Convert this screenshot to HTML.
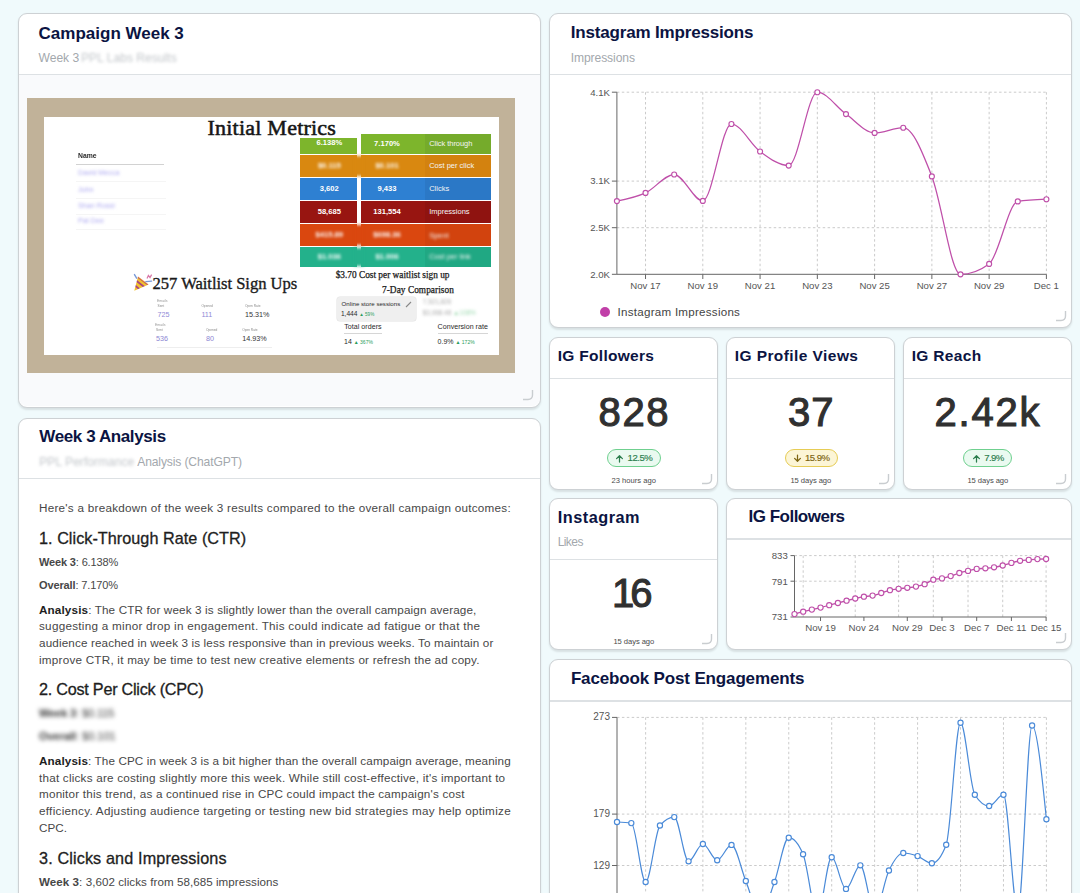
<!DOCTYPE html><html><head><meta charset="utf-8"><style>
html,body{margin:0;padding:0;width:1080px;height:893px;overflow:hidden;background:#f0fafc;font-family:"Liberation Sans",sans-serif;}
.t{position:absolute;white-space:nowrap;}
.card{position:absolute;box-sizing:border-box;background:#fff;border:1.3px solid #cdd1d4;border-radius:9px;box-shadow:0 1.5px 2px rgba(0,0,0,0.10);}
.sep{position:absolute;height:1.3px;background:#dde1e4;}
.hd{position:absolute;}
.blur{filter:blur(2.2px);}
svg{position:absolute;overflow:visible;}
</style></head><body>
<div class="card" style="left:18px;top:13px;width:523px;height:395px"></div>
<div class="sep" style="left:19px;top:74px;width:521px"></div>
<div style="position:absolute;left:19px;top:75px;width:521px;height:331px;background:#f9fafc;border-radius:0 0 8px 8px"></div>
<div class="t" style="left:38.60px;top:24.81px;font-size:17px;line-height:17px;color:#0b1442;font-weight:bold;">Campaign Week 3</div>
<div class="t" style="left:38.60px;top:51.96px;font-size:12.1px;line-height:12.1px;color:#a3a8ad;font-weight:normal;letter-spacing:-0.041px;">Week 3</div>
<div class="t" style="left:81.00px;top:51.96px;font-size:12.1px;line-height:12.1px;color:#c3c7cb;font-weight:normal;filter:blur(1.6px);">PPL Labs Results</div>
<svg class="hd" style="left:522px;top:389px" width="12" height="12" viewBox="0 0 12 12"><path d="M1,10.5 L6,10.5 Q10.5,10.5 10.5,6 L10.5,1" fill="none" stroke="#c9cdd0" stroke-width="1.4"/></svg>
<div style="position:absolute;left:27px;top:98px;width:488px;height:275px;background:#c1b299;"></div>
<div style="position:absolute;left:44px;top:117px;width:455px;height:238px;background:#fff;"></div>
<div class="t" style="left:207.50px;top:117.28px;font-size:22px;line-height:22px;color:#161616;font-weight:normal;font-family:'Liberation Serif', serif;-webkit-text-stroke:0.55px #161616;letter-spacing:0.226px;">Initial Metrics</div>
<div class="t" style="left:78.00px;top:153.04px;font-size:6.8px;line-height:6.8px;color:#2a2a2a;font-weight:bold;filter:blur(0.3px);">Name</div>
<div style="position:absolute;left:76px;top:164.3px;width:88px;height:1px;background:#d2d2d2"></div>
<div class="t" style="left:78.00px;top:169.21px;font-size:7.2px;line-height:7.2px;color:#aeaaf0;font-weight:normal;filter:blur(1.5px);">David Mecca</div>
<div style="position:absolute;left:76px;top:181px;width:90px;height:1px;background:#f5f5f5"></div>
<div class="t" style="left:78.00px;top:185.71px;font-size:7.2px;line-height:7.2px;color:#aeaaf0;font-weight:normal;filter:blur(1.5px);">John</div>
<div style="position:absolute;left:76px;top:197.5px;width:90px;height:1px;background:#f5f5f5"></div>
<div class="t" style="left:78.00px;top:201.91px;font-size:7.2px;line-height:7.2px;color:#aeaaf0;font-weight:normal;filter:blur(1.5px);">Shan Rossi</div>
<div style="position:absolute;left:76px;top:213.7px;width:90px;height:1px;background:#f5f5f5"></div>
<div class="t" style="left:78.00px;top:217.41px;font-size:7.2px;line-height:7.2px;color:#aeaaf0;font-weight:normal;filter:blur(1.5px);">Pat Dee</div>
<div style="position:absolute;left:76px;top:229.2px;width:90px;height:1px;background:#f5f5f5"></div>
<div style="position:absolute;left:300.1px;top:137.9px;width:56.6px;height:15.900000000000006px;background:#7db52c"></div>
<div style="position:absolute;left:361.4px;top:133.6px;width:64px;height:20.200000000000017px;background:#7db52c"></div>
<div style="position:absolute;left:425.4px;top:133.6px;width:66px;height:20.200000000000017px;background:#75ab2b"></div>
<div class="t" style="left:129.30px;width:400px;text-align:center;top:138.87px;font-size:7.6px;line-height:7.6px;color:#fff;font-weight:bold;">6.138%</div>
<div class="t" style="left:187.00px;width:400px;text-align:center;top:139.97px;font-size:7.6px;line-height:7.6px;color:#fff;font-weight:bold;">7.170%</div>
<div class="t" style="left:429.20px;top:140.05px;font-size:7.5px;line-height:7.5px;color:#f4f4f4;font-weight:normal;letter-spacing:-0.048px;">Click through</div>
<div style="position:absolute;left:300.1px;top:154.7px;width:56.6px;height:22.0px;background:#d98810"></div>
<div style="position:absolute;left:361.4px;top:154.7px;width:64px;height:22.0px;background:#d98810"></div>
<div style="position:absolute;left:425.4px;top:154.7px;width:66px;height:22.0px;background:#d3820f"></div>
<div style="position:absolute;left:354px;top:155.7px;width:10px;height:20.0px;background:#d98810;filter:blur(1.5px)"></div>
<div class="t" style="left:129.30px;width:400px;text-align:center;top:161.97px;font-size:7.6px;line-height:7.6px;color:#fff;font-weight:bold;filter:blur(1.6px);">$0.115</div>
<div class="t" style="left:187.00px;width:400px;text-align:center;top:161.97px;font-size:7.6px;line-height:7.6px;color:#fff;font-weight:bold;filter:blur(1.6px);">$0.101</div>
<div class="t" style="left:429.20px;top:162.05px;font-size:7.5px;line-height:7.5px;color:#f4f4f4;font-weight:normal;">Cost per click</div>
<div style="position:absolute;left:300.1px;top:177.6px;width:56.6px;height:22.5px;background:#2e80d2"></div>
<div style="position:absolute;left:361.4px;top:177.6px;width:64px;height:22.5px;background:#2e80d2"></div>
<div style="position:absolute;left:425.4px;top:177.6px;width:66px;height:22.5px;background:#2b78c6"></div>
<div class="t" style="left:129.30px;width:400px;text-align:center;top:185.12px;font-size:7.6px;line-height:7.6px;color:#fff;font-weight:bold;">3,602</div>
<div class="t" style="left:187.00px;width:400px;text-align:center;top:185.12px;font-size:7.6px;line-height:7.6px;color:#fff;font-weight:bold;">9,433</div>
<div class="t" style="left:429.20px;top:185.20px;font-size:7.5px;line-height:7.5px;color:#f4f4f4;font-weight:normal;">Clicks</div>
<div style="position:absolute;left:300.1px;top:200.9px;width:56.6px;height:22.299999999999983px;background:#981511"></div>
<div style="position:absolute;left:361.4px;top:200.9px;width:64px;height:22.299999999999983px;background:#981511"></div>
<div style="position:absolute;left:425.4px;top:200.9px;width:66px;height:22.299999999999983px;background:#8f1310"></div>
<div class="t" style="left:129.30px;width:400px;text-align:center;top:208.32px;font-size:7.6px;line-height:7.6px;color:#fff;font-weight:bold;">58,685</div>
<div class="t" style="left:187.00px;width:400px;text-align:center;top:208.32px;font-size:7.6px;line-height:7.6px;color:#fff;font-weight:bold;">131,554</div>
<div class="t" style="left:429.20px;top:208.40px;font-size:7.5px;line-height:7.5px;color:#f4f4f4;font-weight:normal;">Impressions</div>
<div style="position:absolute;left:300.1px;top:224.0px;width:56.6px;height:22.400000000000006px;background:#da470f"></div>
<div style="position:absolute;left:361.4px;top:224.0px;width:64px;height:22.400000000000006px;background:#da470f"></div>
<div style="position:absolute;left:425.4px;top:224.0px;width:66px;height:22.400000000000006px;background:#d2430e"></div>
<div style="position:absolute;left:354px;top:225.0px;width:10px;height:20.400000000000006px;background:#da470f;filter:blur(1.5px)"></div>
<div class="t" style="left:129.30px;width:400px;text-align:center;top:231.47px;font-size:7.6px;line-height:7.6px;color:#fff;font-weight:bold;filter:blur(1.6px);">$415.89</div>
<div class="t" style="left:187.00px;width:400px;text-align:center;top:231.47px;font-size:7.6px;line-height:7.6px;color:#fff;font-weight:bold;filter:blur(1.6px);">$698.36</div>
<div class="t" style="left:429.20px;top:231.55px;font-size:7.5px;line-height:7.5px;color:#f4f4f4;font-weight:normal;filter:blur(1.6px);">Spent</div>
<div style="position:absolute;left:300.1px;top:247.2px;width:56.6px;height:19.5px;background:#23b18b"></div>
<div style="position:absolute;left:361.4px;top:247.2px;width:64px;height:19.5px;background:#23b18b"></div>
<div style="position:absolute;left:425.4px;top:247.2px;width:66px;height:19.5px;background:#20a883"></div>
<div style="position:absolute;left:354px;top:248.2px;width:10px;height:17.5px;background:#23b18b;filter:blur(1.5px)"></div>
<div class="t" style="left:129.30px;width:400px;text-align:center;top:253.22px;font-size:7.6px;line-height:7.6px;color:#fff;font-weight:bold;filter:blur(1.6px);">$1.036</div>
<div class="t" style="left:187.00px;width:400px;text-align:center;top:253.22px;font-size:7.6px;line-height:7.6px;color:#fff;font-weight:bold;filter:blur(1.6px);">$1.006</div>
<div class="t" style="left:429.20px;top:253.30px;font-size:7.5px;line-height:7.5px;color:#f4f4f4;font-weight:normal;filter:blur(1.6px);">Cost per link</div>
<div class="t" style="left:335.70px;top:270.63px;font-size:9.3px;line-height:9.3px;color:#1a1a1a;font-weight:normal;font-family:'Liberation Serif', serif;-webkit-text-stroke:0.25px #1a1a1a;letter-spacing:0.004px;">$3.70 Cost per waitlist sign up</div>
<div class="t" style="left:382.00px;top:286.13px;font-size:9.3px;line-height:9.3px;color:#1a1a1a;font-weight:normal;font-family:'Liberation Serif', serif;-webkit-text-stroke:0.25px #1a1a1a;letter-spacing:0.058px;">7-Day Comparison</div>
<div style="position:absolute;left:336.7px;top:297.1px;width:79.2px;height:23.7px;background:#efefef;border-radius:3px;box-shadow:0 0 0 0.5px #e2e2e2"></div>
<div class="t" style="left:341.60px;top:300.84px;font-size:6.1px;line-height:6.1px;color:#2a2a2a;font-weight:normal;letter-spacing:0.019px;">Online store sessions</div>
<svg style="left:405px;top:300.5px" width="7" height="7" viewBox="0 0 7 7"><path d="M1,6 L6,1" stroke="#888" stroke-width="1.1"/></svg>
<div class="t" style="left:340.90px;top:311.21px;font-size:6.6px;line-height:6.6px;color:#2a2a2a;font-weight:normal;">1,444 <span style="color:#2a9d5c;font-size:4.6px">&#9650; 59%</span></div>
<div class="t" style="left:422.80px;top:298.58px;font-size:6.4px;line-height:6.4px;color:#aaa;font-weight:normal;filter:blur(1.5px);">7,521,826</div>
<div class="t" style="left:422.80px;top:310.08px;font-size:6.4px;line-height:6.4px;color:#aaa;font-weight:normal;filter:blur(1.5px);">$3,068.48 <span style="color:#9ed9b0">&#9650;108%</span></div>
<div class="t" style="left:344.30px;top:324.19px;font-size:7.1px;line-height:7.1px;color:#2a2a2a;font-weight:normal;letter-spacing:0.019px;">Total orders</div>
<div class="t" style="left:437.60px;top:324.19px;font-size:7.1px;line-height:7.1px;color:#2a2a2a;font-weight:normal;letter-spacing:0.013px;">Conversion rate</div>
<div style="position:absolute;left:344px;top:332.6px;width:38px;height:0.7px;background:#d6d6d6"></div>
<div style="position:absolute;left:437.6px;top:332.6px;width:50.5px;height:0.7px;background:#d6d6d6"></div>
<div class="t" style="left:344.00px;top:338.07px;font-size:7px;line-height:7px;color:#2a2a2a;font-weight:normal;">14 <span style="color:#2a9d5c;font-size:5px">&#9650; 367%</span></div>
<div class="t" style="left:437.60px;top:338.07px;font-size:7px;line-height:7px;color:#2a2a2a;font-weight:normal;">0.9% <span style="color:#2a9d5c;font-size:5px">&#9650; 172%</span></div>
<svg style="left:132px;top:272px" width="21" height="21" viewBox="0 0 21 21"><defs><clipPath id="cone"><path d="M2.3,18.8 L6,4.6 L16.6,12.6 Z"/></clipPath></defs><g clip-path="url(#cone)" style="filter:blur(0.35px)"><rect x="0" y="0" width="21" height="21" fill="#f2c12e"/><path d="M0,11 L9,18.5 M2,7 L13,15.5 M4,3.5 L16,12.5" stroke="#a8457e" stroke-width="1.7"/><path d="M6,4.6 L10,8 L16.6,12.6" stroke="#e8892a" stroke-width="1.2" fill="none"/></g><path d="M2.5,2.6 L4.6,6.2" stroke="#7a9ad8" stroke-width="1.4" stroke-linecap="round" style="filter:blur(0.3px)"/><path d="M15,6.5 L16.4,3.4 L18,5.6 L19.6,2.6" stroke="#d977a8" stroke-width="1.2" fill="none" style="filter:blur(0.3px)"/><path d="M13.8,9.6 L19.6,9.1" stroke="#7a9ad8" stroke-width="1.3" stroke-linecap="round" style="filter:blur(0.3px)"/></svg>
<div class="t" style="left:152.60px;top:275.55px;font-size:16.6px;line-height:16.6px;color:#1a1a1a;font-weight:normal;font-family:'Liberation Serif', serif;-webkit-text-stroke:0.35px #1a1a1a;letter-spacing:-0.043px;">257 Waitlist Sign Ups</div>
<div class="t" style="left:157.00px;top:300.04px;font-size:3.5px;line-height:3.5px;color:#999;font-weight:normal;filter:blur(0.4px);">Emails</div>
<div class="t" style="left:157.50px;top:305.29px;font-size:3.2px;line-height:3.2px;color:#888;font-weight:normal;filter:blur(0.4px);">Sent</div>
<div class="t" style="left:201.40px;top:305.29px;font-size:3.2px;line-height:3.2px;color:#888;font-weight:normal;filter:blur(0.4px);">Opened</div>
<div class="t" style="left:245.00px;top:305.29px;font-size:3.2px;line-height:3.2px;color:#888;font-weight:normal;filter:blur(0.4px);">Open Rate</div>
<div class="t" style="left:157.50px;top:311.11px;font-size:7.2px;line-height:7.2px;color:#8f8ad6;font-weight:normal;">725</div>
<div class="t" style="left:201.40px;top:311.11px;font-size:7.2px;line-height:7.2px;color:#8f8ad6;font-weight:normal;">111</div>
<div class="t" style="left:245.00px;top:311.11px;font-size:7.2px;line-height:7.2px;color:#333;font-weight:normal;">15.31%</div>
<div class="t" style="left:155.00px;top:323.54px;font-size:3.5px;line-height:3.5px;color:#999;font-weight:normal;filter:blur(0.4px);">Emails</div>
<div class="t" style="left:156.00px;top:329.29px;font-size:3.2px;line-height:3.2px;color:#888;font-weight:normal;filter:blur(0.4px);">Sent</div>
<div class="t" style="left:206.00px;top:329.29px;font-size:3.2px;line-height:3.2px;color:#888;font-weight:normal;filter:blur(0.4px);">Opened</div>
<div class="t" style="left:242.20px;top:329.29px;font-size:3.2px;line-height:3.2px;color:#888;font-weight:normal;filter:blur(0.4px);">Open Rate</div>
<div class="t" style="left:156.00px;top:335.11px;font-size:7.2px;line-height:7.2px;color:#8c86d3;font-weight:normal;">536</div>
<div class="t" style="left:206.00px;top:335.11px;font-size:7.2px;line-height:7.2px;color:#8c86d3;font-weight:normal;">80</div>
<div class="t" style="left:242.20px;top:335.11px;font-size:7.2px;line-height:7.2px;color:#333;font-weight:normal;">14.93%</div>
<div style="position:absolute;left:157px;top:347px;width:115px;height:0.7px;background:#eee"></div>
<div class="card" style="left:18px;top:418px;width:523px;height:487px"></div>
<div class="sep" style="left:19px;top:478px;width:521px"></div>
<div class="t" style="left:39.30px;top:427.61px;font-size:17px;line-height:17px;color:#0b1442;font-weight:bold;letter-spacing:-0.393px;">Week 3 Analysis</div>
<div class="t" style="left:39.30px;top:456.06px;font-size:12.1px;line-height:12.1px;color:#c3c7cb;font-weight:normal;filter:blur(1.6px);">PPL Performance</div>
<div class="t" style="left:137.20px;top:456.06px;font-size:12.1px;line-height:12.1px;color:#a3a8ad;font-weight:normal;letter-spacing:-0.124px;">Analysis (ChatGPT)</div>
<div class="t" style="left:39.00px;top:502.00px;font-size:11.7px;line-height:11.7px;color:#474747;font-weight:normal;letter-spacing:0.258px;">Here's a breakdown of the week 3 results compared to the overall campaign outcomes:</div>
<div class="t" style="left:39.00px;top:530.09px;font-size:16.2px;line-height:16.2px;color:#1e1e1e;font-weight:normal;-webkit-text-stroke:0.3px #1e1e1e;letter-spacing:0.044px;">1. Click-Through Rate (CTR)</div>
<div class="t" style="left:39.00px;top:557.09px;font-size:11px;line-height:11px;color:#474747;font-weight:normal;letter-spacing:-0.148px;"><b>Week 3</b>: 6.138%</div>
<div class="t" style="left:39.00px;top:580.39px;font-size:11px;line-height:11px;color:#474747;font-weight:normal;letter-spacing:-0.123px;"><b>Overall</b>: 7.170%</div>
<div class="t" style="left:39.00px;top:603.70px;font-size:11.7px;line-height:11.7px;color:#474747;font-weight:normal;letter-spacing:0.134px;"><b style="color:#1e1e1e">Analysis</b>: The CTR for week 3 is slightly lower than the overall campaign average,</div>
<div class="t" style="left:39.00px;top:620.30px;font-size:11.7px;line-height:11.7px;color:#474747;font-weight:normal;letter-spacing:0.268px;">suggesting a minor drop in engagement. This could indicate ad fatigue or that the</div>
<div class="t" style="left:39.00px;top:636.90px;font-size:11.7px;line-height:11.7px;color:#474747;font-weight:normal;letter-spacing:0.138px;">audience reached in week 3 is less responsive than in previous weeks. To maintain or</div>
<div class="t" style="left:39.00px;top:653.50px;font-size:11.7px;line-height:11.7px;color:#474747;font-weight:normal;letter-spacing:0.232px;">improve CTR, it may be time to test new creative elements or refresh the ad copy.</div>
<div class="t" style="left:39.00px;top:681.19px;font-size:16.2px;line-height:16.2px;color:#1e1e1e;font-weight:normal;-webkit-text-stroke:0.3px #1e1e1e;letter-spacing:-0.242px;">2. Cost Per Click (CPC)</div>
<div class="t" style="left:39.00px;top:707.59px;font-size:11px;line-height:11px;color:#333;font-weight:normal;filter:blur(2.1px);letter-spacing:-0.096px;"><b>Week 3</b>: $0.115</div>
<div class="t" style="left:39.00px;top:730.89px;font-size:11px;line-height:11px;color:#333;font-weight:normal;filter:blur(2.1px);letter-spacing:-0.033px;"><b>Overall</b>: $0.101</div>
<div class="t" style="left:39.00px;top:754.90px;font-size:11.7px;line-height:11.7px;color:#474747;font-weight:normal;letter-spacing:0.117px;"><b style="color:#1e1e1e">Analysis</b>: The CPC in week 3 is a bit higher than the overall campaign average, meaning</div>
<div class="t" style="left:39.00px;top:771.58px;font-size:11.7px;line-height:11.7px;color:#474747;font-weight:normal;letter-spacing:0.220px;">that clicks are costing slightly more this week. While still cost-effective, it's important to</div>
<div class="t" style="left:39.00px;top:788.26px;font-size:11.7px;line-height:11.7px;color:#474747;font-weight:normal;letter-spacing:0.196px;">monitor this trend, as a continued rise in CPC could impact the campaign's cost</div>
<div class="t" style="left:39.00px;top:804.94px;font-size:11.7px;line-height:11.7px;color:#474747;font-weight:normal;letter-spacing:0.281px;">efficiency. Adjusting audience targeting or testing new bid strategies may help optimize</div>
<div class="t" style="left:39.00px;top:821.62px;font-size:11.7px;line-height:11.7px;color:#474747;font-weight:normal;">CPC.</div>
<div class="t" style="left:39.00px;top:849.59px;font-size:16.2px;line-height:16.2px;color:#1e1e1e;font-weight:normal;-webkit-text-stroke:0.3px #1e1e1e;letter-spacing:0.131px;">3. Clicks and Impressions</div>
<div class="t" style="left:39.00px;top:875.98px;font-size:11.6px;line-height:11.6px;color:#474747;font-weight:normal;letter-spacing:0.057px;"><b>Week 3</b>: 3,602 clicks from 58,685 impressions</div>
<div class="card" style="left:549px;top:13px;width:523px;height:315px"></div>
<div class="sep" style="left:550px;top:74px;width:521px"></div>
<div class="t" style="left:570.70px;top:24.31px;font-size:17px;line-height:17px;color:#0b1442;font-weight:bold;letter-spacing:-0.166px;">Instagram Impressions</div>
<div class="t" style="left:570.70px;top:51.96px;font-size:12.1px;line-height:12.1px;color:#a3a8ad;font-weight:normal;letter-spacing:-0.093px;">Impressions</div>
<svg class="hd" style="left:1055px;top:310px" width="12" height="12" viewBox="0 0 12 12"><path d="M1,10.5 L6,10.5 Q10.5,10.5 10.5,6 L10.5,1" fill="none" stroke="#c9cdd0" stroke-width="1.4"/></svg>
<svg style="left:0;top:0" width="1080" height="893"><line x1="616.9" y1="92.2" x2="1046.4" y2="92.2" stroke="#cbcbcb" stroke-dasharray="2.5 2.4"/><line x1="616.9" y1="181.1" x2="1046.4" y2="181.1" stroke="#cbcbcb" stroke-dasharray="2.5 2.4"/><line x1="616.9" y1="227.7" x2="1046.4" y2="227.7" stroke="#cbcbcb" stroke-dasharray="2.5 2.4"/><line x1="645.53" y1="92.2" x2="645.53" y2="274.3" stroke="#cbcbcb" stroke-dasharray="2.5 2.4"/><line x1="702.80" y1="92.2" x2="702.80" y2="274.3" stroke="#cbcbcb" stroke-dasharray="2.5 2.4"/><line x1="760.07" y1="92.2" x2="760.07" y2="274.3" stroke="#cbcbcb" stroke-dasharray="2.5 2.4"/><line x1="817.33" y1="92.2" x2="817.33" y2="274.3" stroke="#cbcbcb" stroke-dasharray="2.5 2.4"/><line x1="874.60" y1="92.2" x2="874.60" y2="274.3" stroke="#cbcbcb" stroke-dasharray="2.5 2.4"/><line x1="931.87" y1="92.2" x2="931.87" y2="274.3" stroke="#cbcbcb" stroke-dasharray="2.5 2.4"/><line x1="989.13" y1="92.2" x2="989.13" y2="274.3" stroke="#cbcbcb" stroke-dasharray="2.5 2.4"/><line x1="1046.40" y1="92.2" x2="1046.40" y2="274.3" stroke="#cbcbcb" stroke-dasharray="2.5 2.4"/><line x1="616.9" y1="92.2" x2="616.9" y2="274.3" stroke="#666" stroke-width="1"/><line x1="616.9" y1="274.3" x2="1046.4" y2="274.3" stroke="#666" stroke-width="1"/><line x1="611.9" y1="92.2" x2="616.9" y2="92.2" stroke="#666"/><line x1="611.9" y1="181.1" x2="616.9" y2="181.1" stroke="#666"/><line x1="611.9" y1="227.7" x2="616.9" y2="227.7" stroke="#666"/><line x1="611.9" y1="274.3" x2="616.9" y2="274.3" stroke="#666"/><line x1="645.53" y1="274.3" x2="645.53" y2="279" stroke="#666"/><line x1="702.80" y1="274.3" x2="702.80" y2="279" stroke="#666"/><line x1="760.07" y1="274.3" x2="760.07" y2="279" stroke="#666"/><line x1="817.33" y1="274.3" x2="817.33" y2="279" stroke="#666"/><line x1="874.60" y1="274.3" x2="874.60" y2="279" stroke="#666"/><line x1="931.87" y1="274.3" x2="931.87" y2="279" stroke="#666"/><line x1="989.13" y1="274.3" x2="989.13" y2="279" stroke="#666"/><line x1="1046.40" y1="274.3" x2="1046.40" y2="279" stroke="#666"/><path d="M616.90,201.10C626.44,199.22,635.99,197.33,645.53,192.90C655.08,188.47,664.62,174.50,674.17,174.50C683.71,174.50,693.26,200.90,702.80,200.90C712.34,200.90,721.89,124.00,731.43,124.00C740.98,124.00,750.52,144.57,760.07,151.50C769.61,158.43,779.16,165.60,788.70,165.60C798.24,165.60,807.79,92.20,817.33,92.20C826.88,92.20,836.42,107.32,845.97,114.10C855.51,120.88,865.06,132.90,874.60,132.90C884.14,132.90,893.69,127.70,903.23,127.70C912.78,127.70,922.32,151.97,931.87,176.40C941.41,200.83,950.96,274.30,960.50,274.30C970.04,274.30,979.59,270.83,989.13,263.90C998.68,256.97,1008.22,202.87,1017.77,201.40C1027.31,199.93,1036.86,199.57,1046.40,199.20" fill="none" stroke="#bf4fa9" stroke-width="1.25"/><circle cx="616.90" cy="201.1" r="2.5" fill="#fff" stroke="#bf4fa9" stroke-width="1.15"/><circle cx="645.53" cy="192.9" r="2.5" fill="#fff" stroke="#bf4fa9" stroke-width="1.15"/><circle cx="674.17" cy="174.5" r="2.5" fill="#fff" stroke="#bf4fa9" stroke-width="1.15"/><circle cx="702.80" cy="200.9" r="2.5" fill="#fff" stroke="#bf4fa9" stroke-width="1.15"/><circle cx="731.43" cy="124" r="2.5" fill="#fff" stroke="#bf4fa9" stroke-width="1.15"/><circle cx="760.07" cy="151.5" r="2.5" fill="#fff" stroke="#bf4fa9" stroke-width="1.15"/><circle cx="788.70" cy="165.6" r="2.5" fill="#fff" stroke="#bf4fa9" stroke-width="1.15"/><circle cx="817.33" cy="92.2" r="2.5" fill="#fff" stroke="#bf4fa9" stroke-width="1.15"/><circle cx="845.97" cy="114.1" r="2.5" fill="#fff" stroke="#bf4fa9" stroke-width="1.15"/><circle cx="874.60" cy="132.9" r="2.5" fill="#fff" stroke="#bf4fa9" stroke-width="1.15"/><circle cx="903.23" cy="127.7" r="2.5" fill="#fff" stroke="#bf4fa9" stroke-width="1.15"/><circle cx="931.87" cy="176.4" r="2.5" fill="#fff" stroke="#bf4fa9" stroke-width="1.15"/><circle cx="960.50" cy="274.3" r="2.5" fill="#fff" stroke="#bf4fa9" stroke-width="1.15"/><circle cx="989.13" cy="263.9" r="2.5" fill="#fff" stroke="#bf4fa9" stroke-width="1.15"/><circle cx="1017.77" cy="201.4" r="2.5" fill="#fff" stroke="#bf4fa9" stroke-width="1.15"/><circle cx="1046.40" cy="199.2" r="2.5" fill="#fff" stroke="#bf4fa9" stroke-width="1.15"/></svg>
<div class="t" style="left:210.00px;width:400px;text-align:right;top:87.57px;font-size:9.6px;line-height:9.6px;color:#555;font-weight:normal;">4.1K</div>
<div class="t" style="left:210.00px;width:400px;text-align:right;top:176.47px;font-size:9.6px;line-height:9.6px;color:#555;font-weight:normal;">3.1K</div>
<div class="t" style="left:210.00px;width:400px;text-align:right;top:223.07px;font-size:9.6px;line-height:9.6px;color:#555;font-weight:normal;">2.5K</div>
<div class="t" style="left:210.00px;width:400px;text-align:right;top:269.67px;font-size:9.6px;line-height:9.6px;color:#555;font-weight:normal;">2.0K</div>
<div class="t" style="left:445.53px;width:400px;text-align:center;top:281.07px;font-size:9.6px;line-height:9.6px;color:#555;font-weight:normal;">Nov 17</div>
<div class="t" style="left:502.80px;width:400px;text-align:center;top:281.07px;font-size:9.6px;line-height:9.6px;color:#555;font-weight:normal;">Nov 19</div>
<div class="t" style="left:560.07px;width:400px;text-align:center;top:281.07px;font-size:9.6px;line-height:9.6px;color:#555;font-weight:normal;">Nov 21</div>
<div class="t" style="left:617.33px;width:400px;text-align:center;top:281.07px;font-size:9.6px;line-height:9.6px;color:#555;font-weight:normal;">Nov 23</div>
<div class="t" style="left:674.60px;width:400px;text-align:center;top:281.07px;font-size:9.6px;line-height:9.6px;color:#555;font-weight:normal;">Nov 25</div>
<div class="t" style="left:731.87px;width:400px;text-align:center;top:281.07px;font-size:9.6px;line-height:9.6px;color:#555;font-weight:normal;">Nov 27</div>
<div class="t" style="left:789.13px;width:400px;text-align:center;top:281.07px;font-size:9.6px;line-height:9.6px;color:#555;font-weight:normal;">Nov 29</div>
<div class="t" style="left:846.40px;width:400px;text-align:center;top:281.07px;font-size:9.6px;line-height:9.6px;color:#555;font-weight:normal;">Dec 1</div>
<div style="position:absolute;left:600px;top:306.5px;width:10px;height:10px;border-radius:50%;background:#c13fa8"></div>
<div class="t" style="left:617.60px;top:306.38px;font-size:11.6px;line-height:11.6px;color:#444;font-weight:normal;letter-spacing:0.253px;">Instagram Impressions</div>
<div class="card" style="left:549px;top:337px;width:169px;height:153px"></div>
<div class="sep" style="left:550px;top:378px;width:167px"></div>
<div class="t" style="left:557.70px;top:348.18px;font-size:15.5px;line-height:15.5px;color:#0b1442;font-weight:bold;letter-spacing:0.299px;">IG Followers</div>
<svg class="hd" style="left:701px;top:473px" width="12" height="12" viewBox="0 0 12 12"><path d="M1,10.5 L6,10.5 Q10.5,10.5 10.5,6 L10.5,1" fill="none" stroke="#c9cdd0" stroke-width="1.4"/></svg>
<div class="t" style="left:598.50px;top:392.34px;font-size:40px;line-height:40px;color:#303030;font-weight:normal;-webkit-text-stroke:1.1px #303030;letter-spacing:1.630px;">828</div>
<div class="card" style="left:726px;top:337px;width:169px;height:153px"></div>
<div class="sep" style="left:727px;top:378px;width:167px"></div>
<div class="t" style="left:734.70px;top:348.18px;font-size:15.5px;line-height:15.5px;color:#0b1442;font-weight:bold;letter-spacing:0.429px;">IG Profile Views</div>
<svg class="hd" style="left:878px;top:473px" width="12" height="12" viewBox="0 0 12 12"><path d="M1,10.5 L6,10.5 Q10.5,10.5 10.5,6 L10.5,1" fill="none" stroke="#c9cdd0" stroke-width="1.4"/></svg>
<div class="t" style="left:788.00px;top:392.34px;font-size:40px;line-height:40px;color:#303030;font-weight:normal;-webkit-text-stroke:1.1px #303030;letter-spacing:1.006px;">37</div>
<div class="card" style="left:903px;top:337px;width:169px;height:153px"></div>
<div class="sep" style="left:904px;top:378px;width:167px"></div>
<div class="t" style="left:911.70px;top:348.18px;font-size:15.5px;line-height:15.5px;color:#0b1442;font-weight:bold;letter-spacing:0.330px;">IG Reach</div>
<svg class="hd" style="left:1055px;top:473px" width="12" height="12" viewBox="0 0 12 12"><path d="M1,10.5 L6,10.5 Q10.5,10.5 10.5,6 L10.5,1" fill="none" stroke="#c9cdd0" stroke-width="1.4"/></svg>
<div class="t" style="left:934.50px;top:392.34px;font-size:40px;line-height:40px;color:#303030;font-weight:normal;-webkit-text-stroke:1.1px #303030;letter-spacing:1.786px;">2.42k</div>
<div style="position:absolute;left:606.80px;top:448.7px;width:53.80px;height:18.2px;box-sizing:border-box;border:1.4px solid #6fd08f;background:#eafaf0;border-radius:9.1px;"></div>
<svg style="left:616.20px;top:454.7px" width="7" height="7" viewBox="0 0 7 7"><path d="M3.5,7 L3.5,0.8 M0.6,3.6 L3.5,0.7 L6.4,3.6" fill="none" stroke="#2b7d4c" stroke-width="1.25" stroke-linecap="round" stroke-linejoin="round"/></svg>
<div class="t" style="left:627.60px;top:453.17px;font-size:9.6px;line-height:9.6px;color:#2b7d4c;font-weight:normal;-webkit-text-stroke:0.15px #2b7d4c;letter-spacing:-0.505px;">12.5%</div>
<div style="position:absolute;left:784.50px;top:448.7px;width:53.10px;height:18.2px;box-sizing:border-box;border:1.4px solid #e6cc55;background:#fcf5d6;border-radius:9.1px;"></div>
<svg style="left:794.40px;top:454.7px" width="7" height="7" viewBox="0 0 7 7"><path d="M3.5,0 L3.5,6.2 M0.6,3.4 L3.5,6.3 L6.4,3.4" fill="none" stroke="#7d6410" stroke-width="1.25" stroke-linecap="round" stroke-linejoin="round"/></svg>
<div class="t" style="left:805.00px;top:453.17px;font-size:9.6px;line-height:9.6px;color:#7d6410;font-weight:normal;-webkit-text-stroke:0.15px #7d6410;letter-spacing:-0.555px;">15.9%</div>
<div style="position:absolute;left:963.40px;top:448.7px;width:48.90px;height:18.2px;box-sizing:border-box;border:1.4px solid #6fd08f;background:#eafaf0;border-radius:9.1px;"></div>
<svg style="left:972.80px;top:454.7px" width="7" height="7" viewBox="0 0 7 7"><path d="M3.5,7 L3.5,0.8 M0.6,3.6 L3.5,0.7 L6.4,3.6" fill="none" stroke="#2b7d4c" stroke-width="1.25" stroke-linecap="round" stroke-linejoin="round"/></svg>
<div class="t" style="left:984.20px;top:453.17px;font-size:9.6px;line-height:9.6px;color:#2b7d4c;font-weight:normal;-webkit-text-stroke:0.15px #2b7d4c;letter-spacing:-0.627px;">7.9%</div>
<div class="t" style="left:611.40px;top:476.87px;font-size:7.6px;line-height:7.6px;color:#4a4a4a;font-weight:normal;letter-spacing:0.021px;">23 hours ago</div>
<div class="t" style="left:790.40px;top:476.87px;font-size:7.6px;line-height:7.6px;color:#4a4a4a;font-weight:normal;letter-spacing:-0.051px;">15 days ago</div>
<div class="t" style="left:967.40px;top:476.87px;font-size:7.6px;line-height:7.6px;color:#4a4a4a;font-weight:normal;letter-spacing:-0.051px;">15 days ago</div>
<div class="card" style="left:549px;top:498px;width:169px;height:152px"></div>
<div class="sep" style="left:550px;top:559px;width:167px"></div>
<div class="t" style="left:557.70px;top:508.50px;font-size:16.3px;line-height:16.3px;color:#0b1442;font-weight:bold;letter-spacing:0.500px;">Instagram</div>
<div class="t" style="left:557.70px;top:536.44px;font-size:12px;line-height:12px;color:#a3a8ad;font-weight:normal;letter-spacing:-0.578px;">Likes</div>
<svg class="hd" style="left:701px;top:633px" width="12" height="12" viewBox="0 0 12 12"><path d="M1,10.5 L6,10.5 Q10.5,10.5 10.5,6 L10.5,1" fill="none" stroke="#c9cdd0" stroke-width="1.4"/></svg>
<div class="t" style="left:612.00px;top:573.34px;font-size:40px;line-height:40px;color:#303030;font-weight:normal;-webkit-text-stroke:1.1px #303030;letter-spacing:-3.994px;">16</div>
<div class="t" style="left:613.40px;top:637.87px;font-size:7.6px;line-height:7.6px;color:#4a4a4a;font-weight:normal;letter-spacing:-0.051px;">15 days ago</div>
<div class="card" style="left:726px;top:498px;width:346px;height:152px"></div>
<div class="sep" style="left:727px;top:538.4px;width:344px"></div>
<div class="t" style="left:748.50px;top:507.81px;font-size:17px;line-height:17px;color:#0b1442;font-weight:bold;letter-spacing:-0.502px;">IG Followers</div>
<svg class="hd" style="left:1055px;top:632px" width="12" height="12" viewBox="0 0 12 12"><path d="M1,10.5 L6,10.5 Q10.5,10.5 10.5,6 L10.5,1" fill="none" stroke="#c9cdd0" stroke-width="1.4"/></svg>
<svg style="left:0;top:0" width="1080" height="893"><line x1="794.5" y1="555.6" x2="1046.1" y2="555.6" stroke="#cbcbcb" stroke-dasharray="2.5 2.4"/><line x1="794.5" y1="581.2" x2="1046.1" y2="581.2" stroke="#cbcbcb" stroke-dasharray="2.5 2.4"/><line x1="803.18" y1="555.6" x2="803.18" y2="617" stroke="#cbcbcb" stroke-dasharray="2.5 2.4"/><line x1="855.23" y1="555.6" x2="855.23" y2="617" stroke="#cbcbcb" stroke-dasharray="2.5 2.4"/><line x1="898.61" y1="555.6" x2="898.61" y2="617" stroke="#cbcbcb" stroke-dasharray="2.5 2.4"/><line x1="933.31" y1="555.6" x2="933.31" y2="617" stroke="#cbcbcb" stroke-dasharray="2.5 2.4"/><line x1="968.02" y1="555.6" x2="968.02" y2="617" stroke="#cbcbcb" stroke-dasharray="2.5 2.4"/><line x1="1002.72" y1="555.6" x2="1002.72" y2="617" stroke="#cbcbcb" stroke-dasharray="2.5 2.4"/><line x1="1046.10" y1="555.6" x2="1046.10" y2="617" stroke="#cbcbcb" stroke-dasharray="2.5 2.4"/><line x1="794.5" y1="555.6" x2="794.5" y2="617" stroke="#666"/><line x1="794.5" y1="617" x2="1046.1" y2="617" stroke="#666"/><line x1="790.5" y1="555.6" x2="794.5" y2="555.6" stroke="#666"/><line x1="790.5" y1="581.2" x2="794.5" y2="581.2" stroke="#666"/><line x1="790.5" y1="617" x2="794.5" y2="617" stroke="#666"/><line x1="820.53" y1="617" x2="820.53" y2="621" stroke="#666"/><line x1="863.91" y1="617" x2="863.91" y2="621" stroke="#666"/><line x1="907.29" y1="617" x2="907.29" y2="621" stroke="#666"/><line x1="941.99" y1="617" x2="941.99" y2="621" stroke="#666"/><line x1="976.69" y1="617" x2="976.69" y2="621" stroke="#666"/><line x1="1011.40" y1="617" x2="1011.40" y2="621" stroke="#666"/><line x1="1046.10" y1="617" x2="1046.10" y2="621" stroke="#666"/><path d="M794.50,614.10C797.39,613.28,800.28,612.45,803.18,611.70C806.07,610.95,808.96,610.28,811.85,609.60C814.74,608.92,817.64,608.33,820.53,607.60C823.42,606.87,826.31,605.97,829.20,605.20C832.10,604.43,834.99,603.75,837.88,603.00C840.77,602.25,843.66,601.45,846.56,600.70C849.45,599.95,852.34,599.17,855.23,598.50C858.12,597.83,861.01,597.18,863.91,596.70C866.80,596.22,869.69,596.22,872.58,595.60C875.47,594.98,878.37,593.90,881.26,593.00C884.15,592.10,887.04,590.90,889.93,590.20C892.83,589.50,895.72,589.20,898.61,588.80C901.50,588.40,904.39,588.17,907.29,587.80C910.18,587.43,913.07,587.20,915.96,586.60C918.85,586.00,921.75,585.35,924.64,584.20C927.53,583.05,930.42,580.57,933.31,579.70C936.21,578.83,939.10,579.00,941.99,578.40C944.88,577.80,947.77,577.00,950.67,576.10C953.56,575.20,956.45,573.87,959.34,573.00C962.23,572.13,965.13,571.58,968.02,570.90C970.91,570.22,973.80,569.30,976.69,568.90C979.59,568.50,982.48,568.57,985.37,568.30C988.26,568.03,991.15,567.77,994.04,567.30C996.94,566.83,999.83,566.23,1002.72,565.50C1005.61,564.77,1008.50,563.68,1011.40,562.90C1014.29,562.12,1017.18,561.30,1020.07,560.80C1022.96,560.30,1025.86,560.18,1028.75,559.90C1031.64,559.62,1034.53,559.17,1037.42,559.10C1040.32,559.03,1043.21,559.02,1046.10,559.00" fill="none" stroke="#bf4fa9" stroke-width="1.3"/><circle cx="794.50" cy="614.1" r="2.6" fill="#fff" stroke="#bf4fa9" stroke-width="1.1"/><circle cx="803.18" cy="611.7" r="2.6" fill="#fff" stroke="#bf4fa9" stroke-width="1.1"/><circle cx="811.85" cy="609.6" r="2.6" fill="#fff" stroke="#bf4fa9" stroke-width="1.1"/><circle cx="820.53" cy="607.6" r="2.6" fill="#fff" stroke="#bf4fa9" stroke-width="1.1"/><circle cx="829.20" cy="605.2" r="2.6" fill="#fff" stroke="#bf4fa9" stroke-width="1.1"/><circle cx="837.88" cy="603" r="2.6" fill="#fff" stroke="#bf4fa9" stroke-width="1.1"/><circle cx="846.56" cy="600.7" r="2.6" fill="#fff" stroke="#bf4fa9" stroke-width="1.1"/><circle cx="855.23" cy="598.5" r="2.6" fill="#fff" stroke="#bf4fa9" stroke-width="1.1"/><circle cx="863.91" cy="596.7" r="2.6" fill="#fff" stroke="#bf4fa9" stroke-width="1.1"/><circle cx="872.58" cy="595.6" r="2.6" fill="#fff" stroke="#bf4fa9" stroke-width="1.1"/><circle cx="881.26" cy="593" r="2.6" fill="#fff" stroke="#bf4fa9" stroke-width="1.1"/><circle cx="889.93" cy="590.2" r="2.6" fill="#fff" stroke="#bf4fa9" stroke-width="1.1"/><circle cx="898.61" cy="588.8" r="2.6" fill="#fff" stroke="#bf4fa9" stroke-width="1.1"/><circle cx="907.29" cy="587.8" r="2.6" fill="#fff" stroke="#bf4fa9" stroke-width="1.1"/><circle cx="915.96" cy="586.6" r="2.6" fill="#fff" stroke="#bf4fa9" stroke-width="1.1"/><circle cx="924.64" cy="584.2" r="2.6" fill="#fff" stroke="#bf4fa9" stroke-width="1.1"/><circle cx="933.31" cy="579.7" r="2.6" fill="#fff" stroke="#bf4fa9" stroke-width="1.1"/><circle cx="941.99" cy="578.4" r="2.6" fill="#fff" stroke="#bf4fa9" stroke-width="1.1"/><circle cx="950.67" cy="576.1" r="2.6" fill="#fff" stroke="#bf4fa9" stroke-width="1.1"/><circle cx="959.34" cy="573" r="2.6" fill="#fff" stroke="#bf4fa9" stroke-width="1.1"/><circle cx="968.02" cy="570.9" r="2.6" fill="#fff" stroke="#bf4fa9" stroke-width="1.1"/><circle cx="976.69" cy="568.9" r="2.6" fill="#fff" stroke="#bf4fa9" stroke-width="1.1"/><circle cx="985.37" cy="568.3" r="2.6" fill="#fff" stroke="#bf4fa9" stroke-width="1.1"/><circle cx="994.04" cy="567.3" r="2.6" fill="#fff" stroke="#bf4fa9" stroke-width="1.1"/><circle cx="1002.72" cy="565.5" r="2.6" fill="#fff" stroke="#bf4fa9" stroke-width="1.1"/><circle cx="1011.40" cy="562.9" r="2.6" fill="#fff" stroke="#bf4fa9" stroke-width="1.1"/><circle cx="1020.07" cy="560.8" r="2.6" fill="#fff" stroke="#bf4fa9" stroke-width="1.1"/><circle cx="1028.75" cy="559.9" r="2.6" fill="#fff" stroke="#bf4fa9" stroke-width="1.1"/><circle cx="1037.42" cy="559.1" r="2.6" fill="#fff" stroke="#bf4fa9" stroke-width="1.1"/><circle cx="1046.10" cy="559" r="2.6" fill="#fff" stroke="#bf4fa9" stroke-width="1.1"/></svg>
<div class="t" style="left:387.80px;width:400px;text-align:right;top:550.97px;font-size:9.6px;line-height:9.6px;color:#555;font-weight:normal;">833</div>
<div class="t" style="left:387.80px;width:400px;text-align:right;top:576.57px;font-size:9.6px;line-height:9.6px;color:#555;font-weight:normal;">791</div>
<div class="t" style="left:387.80px;width:400px;text-align:right;top:612.37px;font-size:9.6px;line-height:9.6px;color:#555;font-weight:normal;">731</div>
<div class="t" style="left:620.53px;width:400px;text-align:center;top:623.39px;font-size:9.7px;line-height:9.7px;color:#555;font-weight:normal;">Nov 19</div>
<div class="t" style="left:663.91px;width:400px;text-align:center;top:623.39px;font-size:9.7px;line-height:9.7px;color:#555;font-weight:normal;">Nov 24</div>
<div class="t" style="left:707.29px;width:400px;text-align:center;top:623.39px;font-size:9.7px;line-height:9.7px;color:#555;font-weight:normal;">Nov 29</div>
<div class="t" style="left:741.99px;width:400px;text-align:center;top:623.39px;font-size:9.7px;line-height:9.7px;color:#555;font-weight:normal;">Dec 3</div>
<div class="t" style="left:776.69px;width:400px;text-align:center;top:623.39px;font-size:9.7px;line-height:9.7px;color:#555;font-weight:normal;">Dec 7</div>
<div class="t" style="left:811.40px;width:400px;text-align:center;top:623.39px;font-size:9.7px;line-height:9.7px;color:#555;font-weight:normal;">Dec 11</div>
<div class="t" style="left:846.10px;width:400px;text-align:center;top:623.39px;font-size:9.7px;line-height:9.7px;color:#555;font-weight:normal;">Dec 15</div>
<div class="card" style="left:549px;top:659px;width:523px;height:246px"></div>
<div class="sep" style="left:550px;top:700.4px;width:521px"></div>
<div class="t" style="left:570.90px;top:669.51px;font-size:17px;line-height:17px;color:#0b1442;font-weight:bold;letter-spacing:-0.151px;">Facebook Post Engagements</div>
<svg style="left:0;top:0" width="1080" height="893"><line x1="617" y1="717.4" x2="1046.4" y2="717.4" stroke="#cbcbcb" stroke-dasharray="2.5 2.4"/><line x1="617" y1="814.1" x2="1046.4" y2="814.1" stroke="#cbcbcb" stroke-dasharray="2.5 2.4"/><line x1="617" y1="865.5" x2="1046.4" y2="865.5" stroke="#cbcbcb" stroke-dasharray="2.5 2.4"/><line x1="645.63" y1="717.4" x2="645.63" y2="900" stroke="#cbcbcb" stroke-dasharray="2.5 2.4"/><line x1="702.88" y1="717.4" x2="702.88" y2="900" stroke="#cbcbcb" stroke-dasharray="2.5 2.4"/><line x1="745.82" y1="717.4" x2="745.82" y2="900" stroke="#cbcbcb" stroke-dasharray="2.5 2.4"/><line x1="788.76" y1="717.4" x2="788.76" y2="900" stroke="#cbcbcb" stroke-dasharray="2.5 2.4"/><line x1="831.70" y1="717.4" x2="831.70" y2="900" stroke="#cbcbcb" stroke-dasharray="2.5 2.4"/><line x1="874.64" y1="717.4" x2="874.64" y2="900" stroke="#cbcbcb" stroke-dasharray="2.5 2.4"/><line x1="917.58" y1="717.4" x2="917.58" y2="900" stroke="#cbcbcb" stroke-dasharray="2.5 2.4"/><line x1="960.52" y1="717.4" x2="960.52" y2="900" stroke="#cbcbcb" stroke-dasharray="2.5 2.4"/><line x1="1003.46" y1="717.4" x2="1003.46" y2="900" stroke="#cbcbcb" stroke-dasharray="2.5 2.4"/><line x1="1046.40" y1="717.4" x2="1046.40" y2="900" stroke="#cbcbcb" stroke-dasharray="2.5 2.4"/><line x1="617" y1="717.4" x2="617" y2="900" stroke="#666"/><line x1="612" y1="717.4" x2="617" y2="717.4" stroke="#666"/><line x1="612" y1="814.1" x2="617" y2="814.1" stroke="#666"/><line x1="612" y1="865.5" x2="617" y2="865.5" stroke="#666"/><path d="M617.00,822.00C621.77,822.18,626.54,822.37,631.31,823.10C636.08,823.83,640.86,882.00,645.63,882.00C650.40,882.00,655.17,831.10,659.94,825.50C664.71,819.90,669.48,817.10,674.25,817.10C679.02,817.10,683.80,861.30,688.57,861.30C693.34,861.30,698.11,844.00,702.88,844.00C707.65,844.00,712.42,860.20,717.19,860.20C721.96,860.20,726.74,844.90,731.51,844.90C736.28,844.90,741.05,869.32,745.82,881.00C750.59,892.68,755.36,915.00,760.13,915.00C764.90,915.00,769.68,894.88,774.45,882.00C779.22,869.12,783.99,837.70,788.76,837.70C793.53,837.70,798.30,843.20,803.07,854.20C807.84,865.20,812.62,915.00,817.39,915.00C822.16,915.00,826.93,857.20,831.70,857.20C836.47,857.20,841.24,888.90,846.01,888.90C850.78,888.90,855.56,865.30,860.33,865.30C865.10,865.30,869.87,912.00,874.64,912.00C879.41,912.00,884.18,880.33,888.95,870.50C893.72,860.67,898.50,853.00,903.27,853.00C908.04,853.00,912.81,854.40,917.58,856.10C922.35,857.80,927.12,863.20,931.89,863.20C936.66,863.20,941.44,857.03,946.21,844.70C950.98,832.37,955.75,722.70,960.52,722.70C965.29,722.70,970.06,787.17,974.83,794.70C979.60,802.23,984.38,806.00,989.15,806.00C993.92,806.00,998.69,794.70,1003.46,794.70C1008.23,794.70,1013.00,912.00,1017.77,912.00C1022.54,912.00,1027.32,725.50,1032.09,725.50C1036.86,725.50,1041.63,772.35,1046.40,819.20" fill="none" stroke="#4a8ad8" stroke-width="1.2"/><circle cx="617.00" cy="822" r="2.6" fill="#fff" stroke="#4a8ad8" stroke-width="1.15"/><circle cx="631.31" cy="823.1" r="2.6" fill="#fff" stroke="#4a8ad8" stroke-width="1.15"/><circle cx="645.63" cy="882" r="2.6" fill="#fff" stroke="#4a8ad8" stroke-width="1.15"/><circle cx="659.94" cy="825.5" r="2.6" fill="#fff" stroke="#4a8ad8" stroke-width="1.15"/><circle cx="674.25" cy="817.1" r="2.6" fill="#fff" stroke="#4a8ad8" stroke-width="1.15"/><circle cx="688.57" cy="861.3" r="2.6" fill="#fff" stroke="#4a8ad8" stroke-width="1.15"/><circle cx="702.88" cy="844" r="2.6" fill="#fff" stroke="#4a8ad8" stroke-width="1.15"/><circle cx="717.19" cy="860.2" r="2.6" fill="#fff" stroke="#4a8ad8" stroke-width="1.15"/><circle cx="731.51" cy="844.9" r="2.6" fill="#fff" stroke="#4a8ad8" stroke-width="1.15"/><circle cx="745.82" cy="881" r="2.6" fill="#fff" stroke="#4a8ad8" stroke-width="1.15"/><circle cx="760.13" cy="915" r="2.6" fill="#fff" stroke="#4a8ad8" stroke-width="1.15"/><circle cx="774.45" cy="882" r="2.6" fill="#fff" stroke="#4a8ad8" stroke-width="1.15"/><circle cx="788.76" cy="837.7" r="2.6" fill="#fff" stroke="#4a8ad8" stroke-width="1.15"/><circle cx="803.07" cy="854.2" r="2.6" fill="#fff" stroke="#4a8ad8" stroke-width="1.15"/><circle cx="817.39" cy="915" r="2.6" fill="#fff" stroke="#4a8ad8" stroke-width="1.15"/><circle cx="831.70" cy="857.2" r="2.6" fill="#fff" stroke="#4a8ad8" stroke-width="1.15"/><circle cx="846.01" cy="888.9" r="2.6" fill="#fff" stroke="#4a8ad8" stroke-width="1.15"/><circle cx="860.33" cy="865.3" r="2.6" fill="#fff" stroke="#4a8ad8" stroke-width="1.15"/><circle cx="874.64" cy="912" r="2.6" fill="#fff" stroke="#4a8ad8" stroke-width="1.15"/><circle cx="888.95" cy="870.5" r="2.6" fill="#fff" stroke="#4a8ad8" stroke-width="1.15"/><circle cx="903.27" cy="853" r="2.6" fill="#fff" stroke="#4a8ad8" stroke-width="1.15"/><circle cx="917.58" cy="856.1" r="2.6" fill="#fff" stroke="#4a8ad8" stroke-width="1.15"/><circle cx="931.89" cy="863.2" r="2.6" fill="#fff" stroke="#4a8ad8" stroke-width="1.15"/><circle cx="946.21" cy="844.7" r="2.6" fill="#fff" stroke="#4a8ad8" stroke-width="1.15"/><circle cx="960.52" cy="722.7" r="2.6" fill="#fff" stroke="#4a8ad8" stroke-width="1.15"/><circle cx="974.83" cy="794.7" r="2.6" fill="#fff" stroke="#4a8ad8" stroke-width="1.15"/><circle cx="989.15" cy="806" r="2.6" fill="#fff" stroke="#4a8ad8" stroke-width="1.15"/><circle cx="1003.46" cy="794.7" r="2.6" fill="#fff" stroke="#4a8ad8" stroke-width="1.15"/><circle cx="1017.77" cy="912" r="2.6" fill="#fff" stroke="#4a8ad8" stroke-width="1.15"/><circle cx="1032.09" cy="725.5" r="2.6" fill="#fff" stroke="#4a8ad8" stroke-width="1.15"/><circle cx="1046.40" cy="819.2" r="2.6" fill="#fff" stroke="#4a8ad8" stroke-width="1.15"/></svg>
<div class="t" style="left:210.00px;width:400px;text-align:right;top:712.43px;font-size:10px;line-height:10px;color:#555;font-weight:normal;">273</div>
<div class="t" style="left:210.00px;width:400px;text-align:right;top:809.13px;font-size:10px;line-height:10px;color:#555;font-weight:normal;">179</div>
<div class="t" style="left:210.00px;width:400px;text-align:right;top:860.53px;font-size:10px;line-height:10px;color:#555;font-weight:normal;">129</div>
</body></html>
